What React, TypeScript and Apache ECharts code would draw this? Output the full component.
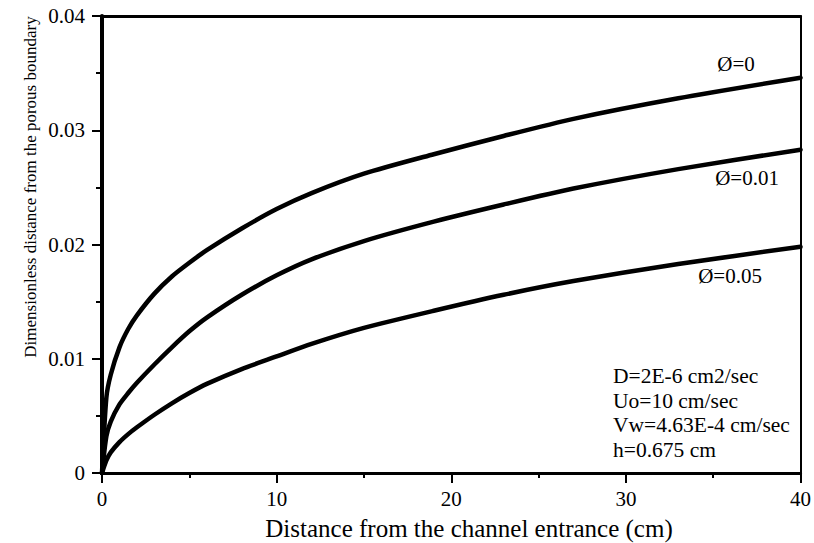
import React, { useEffect, useRef } from "react";
import * as echarts from "echarts";

// Distance from channel entrance (cm)
const distanceCm = [0, 0.25, 0.5, 1, 1.5, 2, 3, 4, 5, 6, 8, 10, 12, 15, 19, 23, 27, 33, 40];
// Dimensionless distance, Ø = 0
const phi0 = [0, 0.0066, 0.0086, 0.011, 0.0126, 0.0138, 0.0157, 0.0172, 0.0184, 0.0195, 0.0214, 0.0231, 0.0245, 0.0262, 0.0279, 0.0295, 0.031, 0.0328, 0.0346];
// Ø = 0.01
const phi001 = [0, 0.0032, 0.0045, 0.006, 0.007, 0.0079, 0.0095, 0.011, 0.0124, 0.0136, 0.0156, 0.0173, 0.0187, 0.0203, 0.022, 0.0235, 0.0249, 0.0266, 0.0283];
// Ø = 0.05
const phi005 = [0, 0.0011, 0.0018, 0.0027, 0.0034, 0.004, 0.0051, 0.0061, 0.007, 0.0078, 0.0091, 0.0102, 0.0113, 0.0127, 0.0142, 0.0156, 0.0168, 0.0183, 0.0198];

const curveNames = ["Ø=0", "Ø=0.01", "Ø=0.05"];
const paramLines = ["D=2E-6 cm2/sec", "Uo=10 cm/sec", "Vw=4.63E-4 cm/sec", "h=0.675 cm"];
const xAxisTitle = "Distance from the channel entrance (cm)";
const yAxisTitle = "Dimensionless distance from the porous boundary";

const FONT = "'Liberation Serif', 'Times New Roman', serif";

export default function App() {
  const ref = useRef<HTMLDivElement>(null);
  useEffect(() => {
    document.body.style.margin = "0";
    const chart = echarts.init(ref.current!, null, { renderer: "svg" });
    const toPairs = (ys: number[]) => distanceCm.map((x, i) => [x, ys[i]]);
    const seriesData = [phi0, phi001, phi005];
    const labelPos = [
      [736, 64],
      [747, 178],
      [730, 276],
    ];
    const paramY = [376, 400.5, 425, 449.5];
    const txt = (text: string, x: number, y: number, size: number, align = "center", rotation = 0) => ({
      type: "text",
      x,
      y,
      rotation,
      silent: true,
      style: {
        text,
        fill: "#000",
        fontSize: size,
        fontFamily: FONT,
        align,
        verticalAlign: "middle",
      },
    });
    chart.setOption({
      animation: false,
      backgroundColor: "#fff",
      grid: { left: 102, right: 13, top: 16, bottom: 70, containLabel: false },
      xAxis: [
        {
          type: "value",
          min: 0,
          max: 40,
          interval: 10,
          axisLine: { show: true, onZero: false, lineStyle: { color: "#000", width: 3 } },
          axisTick: { show: true, length: 10, lineStyle: { color: "#000", width: 2 } },
          minorTick: { show: true, splitNumber: 2, length: 5, lineStyle: { color: "#000", width: 2 } },
          splitLine: { show: false },
          axisLabel: { color: "#000", fontSize: 21, fontFamily: FONT, margin: 15 },
        },
        {
          type: "value",
          position: "top",
          min: 0,
          max: 40,
          axisLine: { show: true, onZero: false, lineStyle: { color: "#000", width: 3 } },
          axisTick: { show: false },
          axisLabel: { show: false },
          splitLine: { show: false },
        },
      ],
      yAxis: [
        {
          type: "value",
          min: 0,
          max: 0.04,
          interval: 0.01,
          axisLine: { show: true, onZero: false, lineStyle: { color: "#000", width: 4 } },
          axisTick: { show: true, length: 10, lineStyle: { color: "#000", width: 2 } },
          minorTick: { show: true, splitNumber: 2, length: 6, lineStyle: { color: "#000", width: 2 } },
          splitLine: { show: false },
          axisLabel: {
            color: "#000",
            fontSize: 21,
            fontFamily: FONT,
            margin: 17,
            formatter: (v: number) => (v === 0 ? "0" : v.toFixed(2)),
          },
        },
        {
          type: "value",
          position: "right",
          min: 0,
          max: 0.04,
          axisLine: { show: true, onZero: false, lineStyle: { color: "#000", width: 2 } },
          axisTick: { show: false },
          axisLabel: { show: false },
          splitLine: { show: false },
        },
      ],
      series: seriesData.map((ys, i) => ({
        name: curveNames[i],
        type: "line",
        xAxisIndex: 0,
        yAxisIndex: 0,
        data: toPairs(ys),
        smooth: 0.25,
        showSymbol: false,
        symbol: "none",
        lineStyle: { color: "#000", width: 4.5, join: "round", cap: "round" },
        z: 3,
      })),
      graphic: [
        ...curveNames.map((n, i) => txt(n, labelPos[i][0], labelPos[i][1], 21)),
        ...paramLines.map((t, i) => txt(t, 613, paramY[i], 21.5, "left")),
        txt(xAxisTitle, 469, 528, 25),
        txt(yAxisTitle, 30, 187, 17, "center", Math.PI / 2),
      ],
    });
    return () => chart.dispose();
  }, []);
  return <div ref={ref} style={{ width: 814, height: 543 }} />;
}
